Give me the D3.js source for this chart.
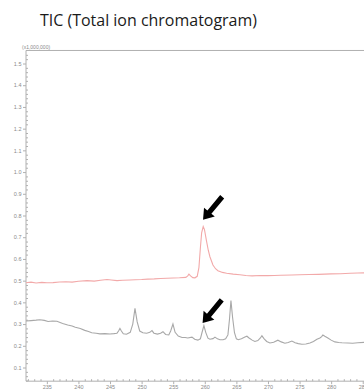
<!DOCTYPE html>
<html><head><meta charset="utf-8">
<script src="https://cdn.jsdelivr.net/npm/d3@7"></script>
<style>body{margin:0;background:#fff}svg{display:block}</style>
</head><body>
<script>
const title = "TIC (Total ion chromatogram)";
const yUnitLabel = "(x1,000,000)";
const xTicks = [235,240,245,250,255,260,265,270,275,280,285];
const yTicks = [0.1,0.2,0.3,0.4,0.5,0.6,0.7,0.8,0.9,1.0,1.1,1.2,1.3,1.4,1.5];

// retention time (min) and intensity (x1,000,000) – upper (red) trace
const redX = [231.7,232.5,233.3,234.2,235.0,235.97,237.0,238.0,239.0,240.0,241.35,242.5,243.5,244.52,245.2,246.1,247.0,248.16,249.0,250.0,251.0,252.0,253.0,254.0,255.0,256.0,257.0,257.3,257.49,257.75,258.1,258.44,258.8,259.07,259.3,259.5,259.75,259.95,260.29,260.55,260.81,261.29,261.7,262.08,262.8,263.46,264.5,265.56,266.5,267.5,268.73,270.0,271.0,272.0,273.79,275.0,276.5,278.0,279.01,280.0,281.5,283.0,284.23,285.3];
const redY = [0.490,0.493,0.489,0.492,0.490,0.491,0.494,0.495,0.493,0.497,0.500,0.498,0.502,0.505,0.503,0.500,0.502,0.503,0.504,0.505,0.507,0.508,0.510,0.511,0.512,0.513,0.515,0.522,0.530,0.522,0.514,0.513,0.520,0.560,0.650,0.720,0.749,0.735,0.680,0.640,0.610,0.572,0.555,0.546,0.538,0.534,0.530,0.527,0.524,0.522,0.524,0.523,0.524,0.525,0.526,0.527,0.528,0.529,0.530,0.531,0.532,0.534,0.535,0.536];

// lower (gray) trace
const grayX = [231.7,232.5,233.3,233.9,234.6,235.2,235.9,236.6,237.5,238.3,239.0,239.5,240.3,241.0,241.6,242.1,242.8,243.4,244.2,245.0,245.6,246.1,246.35,246.57,246.8,247.1,247.6,248.2,248.6,248.95,249.3,249.7,250.2,250.8,251.3,251.64,251.95,252.5,253.0,253.38,253.8,254.3,254.6,254.96,255.3,255.8,256.4,256.9,257.3,257.97,258.4,258.9,259.3,259.55,259.86,260.15,260.5,260.81,261.3,261.61,262.0,262.4,262.9,263.3,263.66,263.9,264.14,264.4,264.7,265.0,265.3,265.8,266.35,266.67,267.0,267.5,267.93,268.4,268.8,269.04,269.4,269.8,270.31,270.9,271.57,272.1,272.68,273.2,273.79,274.3,274.8,275.37,276.0,276.64,277.2,277.75,278.22,278.5,278.69,279.0,279.48,280.0,280.59,281.2,281.7,282.65,283.4,284.23,285.3];
const grayY = [0.314,0.316,0.318,0.320,0.317,0.312,0.314,0.313,0.303,0.296,0.291,0.285,0.280,0.271,0.266,0.260,0.258,0.255,0.256,0.254,0.256,0.258,0.268,0.280,0.268,0.255,0.253,0.262,0.300,0.372,0.310,0.268,0.260,0.258,0.262,0.270,0.258,0.254,0.258,0.265,0.252,0.250,0.268,0.300,0.262,0.245,0.238,0.238,0.236,0.240,0.230,0.226,0.232,0.260,0.293,0.262,0.235,0.230,0.233,0.240,0.232,0.228,0.228,0.232,0.250,0.320,0.408,0.330,0.260,0.232,0.228,0.232,0.240,0.244,0.236,0.226,0.220,0.224,0.236,0.246,0.232,0.220,0.213,0.216,0.226,0.218,0.212,0.215,0.222,0.214,0.210,0.207,0.208,0.213,0.220,0.230,0.236,0.242,0.250,0.244,0.236,0.226,0.218,0.215,0.214,0.213,0.212,0.214,0.216];

// arrow annotations: tip position in data units
const arrowX = [259.72, 259.65];
const arrowY = [0.78, 0.305];

const W = 364, H = 391;
const svg = d3.select("body").append("svg").attr("width", W).attr("height", H);

const x = d3.scaleLinear().domain([231.7, 285.2]).range([26, 364]);
const y = d3.scaleLinear().domain([0.1, 1.5]).range([367.5, 63.5]);
const yTop = 1.56, yBot = 0.037;

svg.append("text").attr("x", 40).attr("y", 26)
  .attr("font-family", "'Open Sans', 'Noto Sans', sans-serif").attr("font-size", 16.5)
  .attr("fill", "#1a1a1a").attr("textLength", 217).attr("lengthAdjust", "spacingAndGlyphs")
  .text(title);

const axisCol = "#b0b0b0", txtCol = "#8a8a8a";
const g = svg.append("g");
// frame lines
g.append("line").attr("x1", 26).attr("x2", 364).attr("y1", y(yTop)).attr("y2", y(yTop)).attr("stroke", axisCol).attr("stroke-width", 1);
g.append("line").attr("x1", 26).attr("x2", 26).attr("y1", y(yTop)).attr("y2", y(yBot)).attr("stroke", axisCol).attr("stroke-width", 1);
g.append("line").attr("x1", 26).attr("x2", 364).attr("y1", y(yBot)).attr("y2", y(yBot)).attr("stroke", axisCol).attr("stroke-width", 1);

svg.append("text").attr("x", 22).attr("y", y(yTop) - 1.5)
  .attr("font-family", "Arial, 'Liberation Sans', sans-serif").attr("font-size", 5)
  .attr("fill", txtCol).text(yUnitLabel);

// y axis major
const yAxis = d3.axisLeft(y).tickValues(yTicks).tickSize(3).tickFormat(d3.format(".1f"));
const ya = svg.append("g").attr("transform", "translate(26,0)").call(yAxis);
ya.select(".domain").remove();
ya.selectAll("line").attr("stroke", axisCol);
ya.selectAll("text").attr("font-family", "Arial, 'Liberation Sans', sans-serif").attr("font-size", 5.5).attr("fill", txtCol).attr("x", -4.5);
// y minor ticks
const yMinor = d3.range(0.04, 1.56, 0.02).filter(v => Math.abs(v*10 - Math.round(v*10)) > 0.01);
const ym = svg.append("g").attr("transform", "translate(26,0)").call(d3.axisRight(y).tickValues(yMinor).tickSize(2).tickFormat(""));
ym.select(".domain").remove();
ym.selectAll("line").attr("stroke", axisCol);

// x axis
const xa = svg.append("g").attr("transform", `translate(0,${y(yBot)})`)
  .call(d3.axisBottom(x).tickValues(xTicks).tickSize(3).tickFormat(d3.format("d")));
xa.select(".domain").remove();
xa.selectAll("line").attr("stroke", axisCol);
xa.selectAll("text").attr("font-family", "Arial, 'Liberation Sans', sans-serif").attr("font-size", 5.5).attr("fill", txtCol).attr("y", 3.5);
const xMinor = d3.range(232, 286, 1).filter(v => v % 5 !== 0);
const xm = svg.append("g").attr("transform", `translate(0,${y(yBot)})`)
  .call(d3.axisTop(x).tickValues(xMinor).tickSize(2).tickFormat(""));
xm.select(".domain").remove();
xm.selectAll("line").attr("stroke", axisCol);

const line = d3.line().x(d => x(d[0])).y(d => y(d[1]));
svg.append("path").datum(redX.map((v, i) => [v, redY[i]]))
  .attr("d", line).attr("fill", "none").attr("stroke", "#f2a9a9").attr("stroke-width", 1.1);
svg.append("path").datum(grayX.map((v, i) => [v, grayY[i]]))
  .attr("d", line).attr("fill", "none").attr("stroke", "#a8a8a8").attr("stroke-width", 1.1);

// arrows (shape in px relative to tip)
arrowX.forEach((ax, i) => {
  const tx = x(ax), ty = y(arrowY[i]);
  const ang = Math.atan2(-23.5, 19.5); // direction tip->tail
  const L = 30, hl = 10, hw = 7, sw = 2.6;
  const pts = [[0,0],[hl,-hw],[hl,-sw],[L,-sw],[L,sw],[hl,sw],[hl,hw]];
  const c = Math.cos(ang), s = Math.sin(ang);
  const p = pts.map(([u, v]) => [tx + u*c - v*s, ty + u*s + v*c]);
  svg.append("path").attr("d", "M" + p.map(q => q.join(",")).join("L") + "Z").attr("fill", "#000");
});
</script>
</body></html>
